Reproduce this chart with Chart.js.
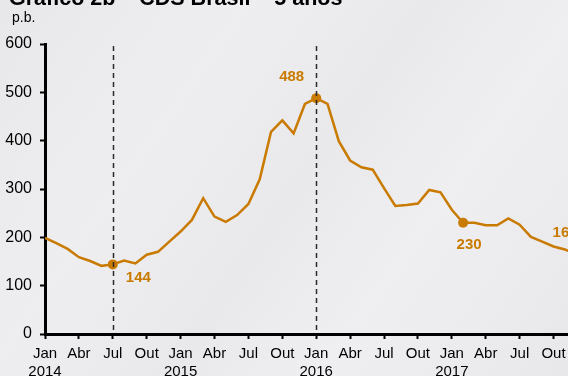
<!DOCTYPE html>
<html>
<head>
<meta charset="utf-8">
<script src="https://cdn.jsdelivr.net/npm/chart.js@4.4.1/dist/chart.umd.min.js"></script>
<style>
  html, body { margin: 0; padding: 0; overflow: hidden; }
  body {
    width: 568px; height: 376px;
    background: linear-gradient(125deg, #e8e8ea 0%, #eeeef0 30%, #e9e9eb 52%, #efeff1 70%, #e8e8ea 100%);
  }
  /* o gráfico original está cortado na borda direita */
  #wrap { position: relative; width: 580px; height: 376px; }
</style>
</head>
<body>
<div id="wrap"><canvas id="cds"></canvas></div>
<script>
// CDS Brasil 5 anos, p.b., mensal jan/2014 - dez/2017
const meses = [
  "2014-01","2014-02","2014-03","2014-04","2014-05","2014-06","2014-07","2014-08","2014-09","2014-10","2014-11","2014-12",
  "2015-01","2015-02","2015-03","2015-04","2015-05","2015-06","2015-07","2015-08","2015-09","2015-10","2015-11","2015-12",
  "2016-01","2016-02","2016-03","2016-04","2016-05","2016-06","2016-07","2016-08","2016-09","2016-10","2016-11","2016-12",
  "2017-01","2017-02","2017-03","2017-04","2017-05","2017-06","2017-07","2017-08","2017-09","2017-10","2017-11","2017-12"
];
const cds = [
  199, 188, 176, 159, 151, 141, 144, 152, 146, 164, 170, 191,
  212, 236, 281, 243, 232, 246, 269, 320, 418, 442, 415, 476,
  488, 476, 399, 359, 345, 340, 302, 265, 267, 270, 298, 293,
  257, 230, 230, 225, 225, 239, 226, 201, 191, 181, 175, 165
];
const yTicks = [0, 100, 200, 300, 400, 500, 600];
const nomesTrimestre = ["Jan", "Abr", "Jul", "Out"];
const destaques = [6, 24, 37, 47];      // pontos marcados com rótulo
const verticais = [6, 24];              // linhas tracejadas

const laranja = "#C97A00";
const fonte = "'Liberation Sans', Arial, sans-serif";
const pontos = cds.map((v, i) => ({ x: i, y: v }));
const tickMeses = meses.map((m, i) => i).filter(i => i % 3 === 0);

// offsets dos rótulos em relação ao ponto
const rotuloPos = {
  6:  { dx: 13, dy: 13, align: "left" },
  24: { dx: -12, dy: -21, align: "right" },
  37: { dx: 6, dy: 22, align: "center" },
  47: { dx: -11, dy: -21, align: "center" }
};

const extras = {
  id: "extras",
  afterDatasetsDraw(chart) {
    const { ctx, chartArea, scales } = chart;
    ctx.save();
    ctx.strokeStyle = "#2a2a2a";
    ctx.lineWidth = 1.5;
    ctx.setLineDash([5, 4]);
    verticais.forEach(i => {
      const x = Math.round(scales.x.getPixelForValue(i)) + 0.5;
      ctx.beginPath();
      ctx.moveTo(x, chartArea.top + 2);
      ctx.lineTo(x, chartArea.bottom);
      ctx.stroke();
    });
    ctx.setLineDash([]);
    ctx.fillStyle = laranja;
    ctx.font = "bold 15px " + fonte;
    ctx.textBaseline = "middle";
    destaques.forEach(i => {
      const p = rotuloPos[i];
      ctx.textAlign = p.align;
      ctx.fillText(String(cds[i]), scales.x.getPixelForValue(i) + p.dx, scales.y.getPixelForValue(cds[i]) + p.dy);
    });
    // título e unidade
    ctx.fillStyle = "#000";
    ctx.textAlign = "left";
    ctx.textBaseline = "alphabetic";
    ctx.font = "bold 21.5px " + fonte;
    ctx.fillText("Gráfico 2b – CDS Brasil – 5 anos", 9, 5);
    ctx.font = "14px " + fonte;
    ctx.fillText("p.b.", 12, 22);
    ctx.restore();
  }
};

new Chart(document.getElementById("cds"), {
  type: "line",
  data: {
    datasets: [{
      data: pontos,
      borderColor: laranja,
      backgroundColor: laranja,
      borderWidth: 2.5,
      tension: 0,
      pointRadius: cds.map((v, i) => destaques.includes(i) ? 5 : 0),
      pointHoverRadius: 0,
      pointBorderWidth: 0
    }]
  },
  options: {
    responsive: true,
    maintainAspectRatio: false,
    animation: false,
    events: [],
    layout: { padding: { top: 44, right: 0, left: 0, bottom: 0 } },
    plugins: { legend: { display: false }, tooltip: { enabled: false } },
    scales: {
      x: {
        type: "linear",
        min: 0,
        max: 46.9,
        afterBuildTicks: s => { s.ticks = tickMeses.map(v => ({ value: v })); },
        afterFit: s => { s.height = 42; },
        ticks: {
          autoSkip: false,
          maxRotation: 0,
          padding: 6,
          color: "#000",
          font: { family: fonte, size: 15 },
          callback: v => {
            const [ano, mes] = meses[v].split("-");
            const nome = nomesTrimestre[(Number(mes) - 1) / 3];
            return mes === "01" ? [nome, ano] : nome;
          }
        },
        grid: { display: true, drawOnChartArea: false, drawTicks: true, tickLength: 5, tickColor: "#000", tickWidth: 2 },
        border: { display: true, color: "#000", width: 3 }
      },
      y: {
        min: 0,
        max: 600,
        afterBuildTicks: s => { s.ticks = yTicks.map(v => ({ value: v })); },
        afterFit: s => { s.width = 45; },
        ticks: {
          padding: 8,
          color: "#000",
          font: { family: fonte, size: 16 }
        },
        grid: { display: true, drawOnChartArea: false, drawTicks: true, tickLength: 5, tickColor: "#000", tickWidth: 2 },
        border: { display: true, color: "#000", width: 3 }
      }
    }
  },
  plugins: [extras]
});
</script>
</body>
</html>
